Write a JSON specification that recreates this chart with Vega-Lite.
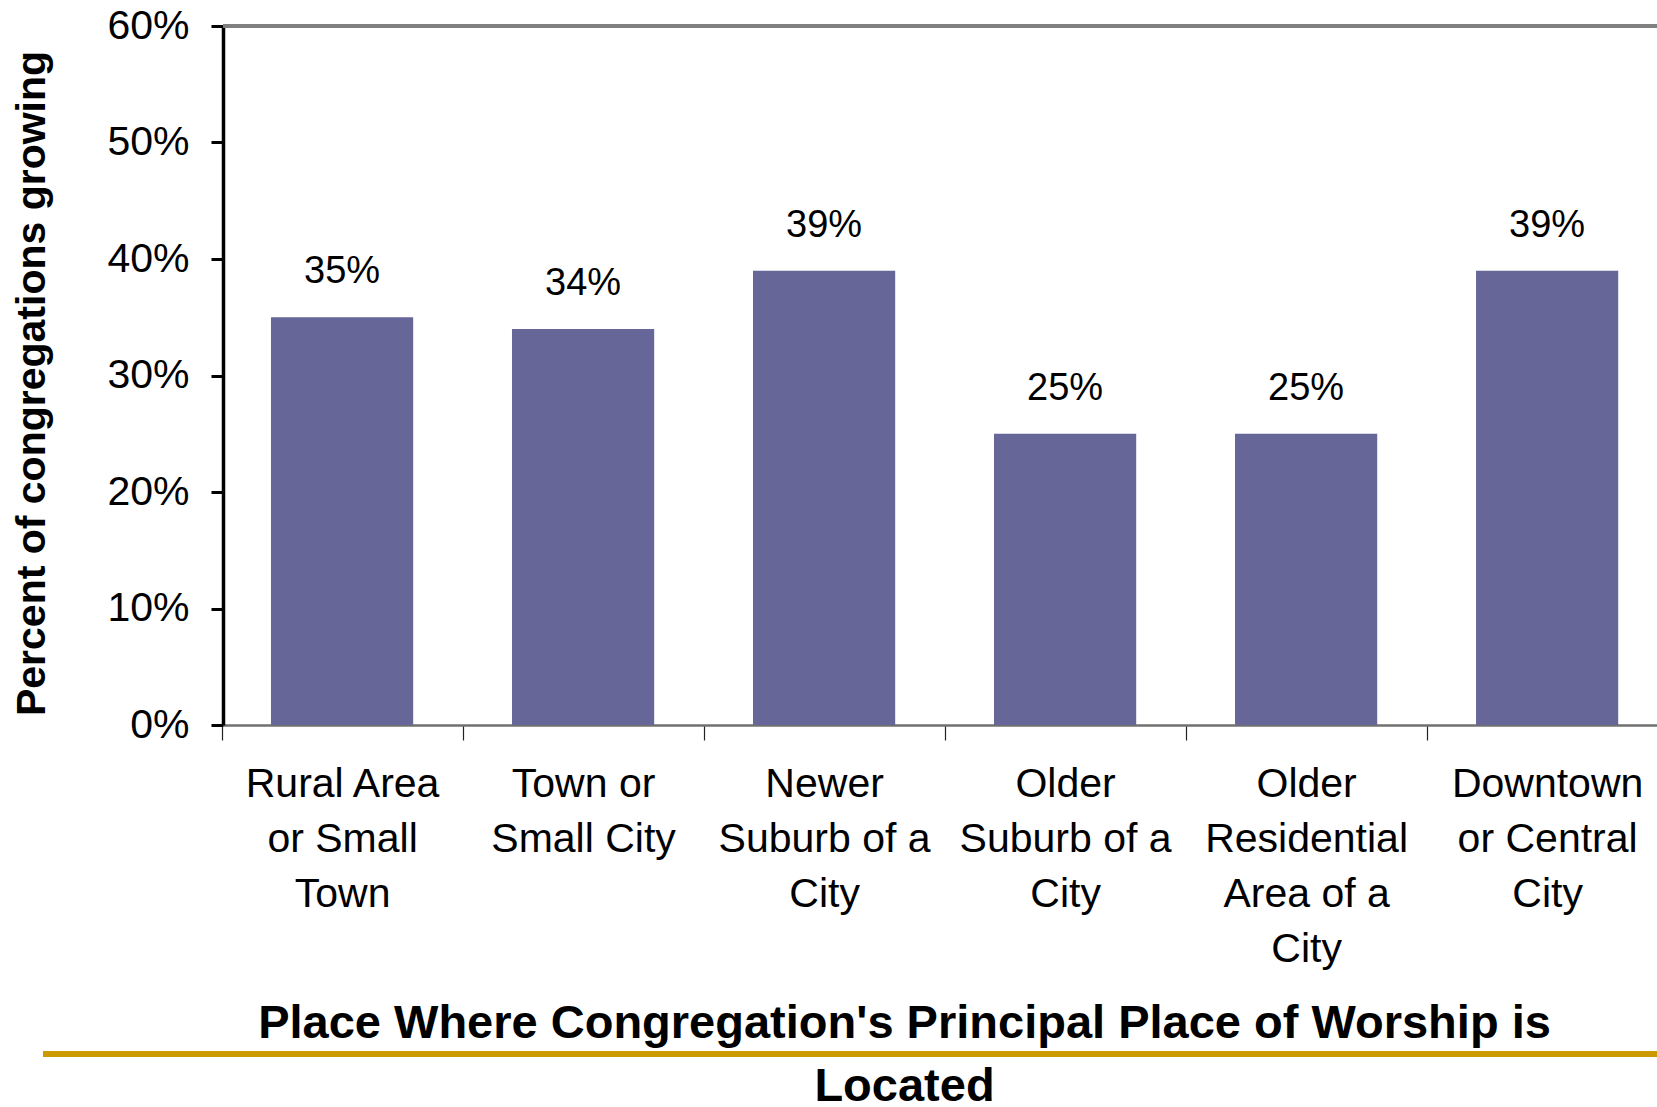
{
  "$schema": "https://vega.github.io/schema/vega-lite/v6.json",
  "autosize": "none",
  "width": 1434,
  "height": 699,
  "padding": {"left": 223, "top": 26, "right": 0, "bottom": 382},
  "background": "white",
  "config": {"view": {"stroke": null}, "font": "Liberation Sans"},
  "data": {"values": [
    {"place": "Rural Area|or Small|Town", "pct": 0.35, "label": "35%", "order": 1},
    {"place": "Town or|Small City", "pct": 0.34, "label": "34%", "order": 2},
    {"place": "Newer|Suburb of a|City", "pct": 0.39, "label": "39%", "order": 3},
    {"place": "Older|Suburb of a|City", "pct": 0.25, "label": "25%", "order": 4},
    {"place": "Older|Residential|Area of a|City", "pct": 0.25, "label": "25%", "order": 5},
    {"place": "Downtown|or Central|City", "pct": 0.39, "label": "39%", "order": 6}
  ]},
  "layer": [
    {
      "encoding": {
        "x": {
          "field": "place", "type": "nominal", "sort": {"field": "order"},
          "scale": {"paddingInner": 0.41, "paddingOuter": 0.18, "align": 0.553},
          "axis": {
            "title": ["Place Where Congregation's Principal Place of Worship is", "Located"],
            "titleFont": "Liberation Sans", "titleFontSize": 47, "titleFontWeight": "bold",
            "titleColor": "black", "titleLineHeight": 63,
            "titleX": 681, "titleY": 312, "titleAlign": "center", "titleBaseline": "alphabetic",
            "labelExpr": "split(datum.label, '|')",
            "labelAngle": 0, "labelFontSize": 41, "labelLineHeight": 55, "labelColor": "black",
            "labelPadding": 24, "labelBaseline": "top", "labelLimit": 0,
            "tickOffset": -120.5, "labelOffset": 120.5,
            "tickSize": 15, "tickColor": "#222", "tickWidth": 1.2,
            "domainColor": "#707070", "domainWidth": 2.5
          }
        },
        "y": {
          "field": "pct", "type": "quantitative",
          "scale": {"domain": [0, 0.6], "nice": false},
          "axis": {
            "title": "Percent of congregations growing",
            "titleFont": "Liberation Sans", "titleFontSize": 41, "titleFontWeight": "bold",
            "titleColor": "black", "titleX": -179, "titleY": 357, "titleAngle": -90,
            "titleAlign": "center", "titleBaseline": "alphabetic",
            "values": [0, 0.1, 0.2, 0.3, 0.4, 0.5, 0.6], "format": ".0%",
            "labelFontSize": 41, "labelColor": "black", "labelPadding": 22,
            "tickSize": 12, "tickWidth": 3, "tickColor": "black",
            "domainColor": "black", "domainWidth": 3.5, "grid": false
          }
        }
      },
      "layer": [
        {"mark": {"type": "bar", "color": "#666699"}},
        {"mark": {"type": "text", "fontSize": 38, "baseline": "alphabetic", "dy": -34, "color": "black"},
         "encoding": {"text": {"field": "label"}}},
        {"mark": {"type": "rule", "color": "#808080", "strokeWidth": 3},
         "encoding": {"y": {"datum": 0.6}, "x": null}}
      ]
    },
    {
      "mark": {"type": "rule", "color": "#CC9900", "strokeWidth": 5},
      "encoding": {
        "x": {"datum": -0.1255, "type": "quantitative", "scale": {"domain": [0, 1], "nice": false, "zero": false}, "axis": null},
        "x2": {"datum": 1},
        "y": {"datum": -0.2824}
      }
    }
  ],
  "resolve": {"scale": {"x": "independent"}, "axis": {"x": "independent"}}
}
